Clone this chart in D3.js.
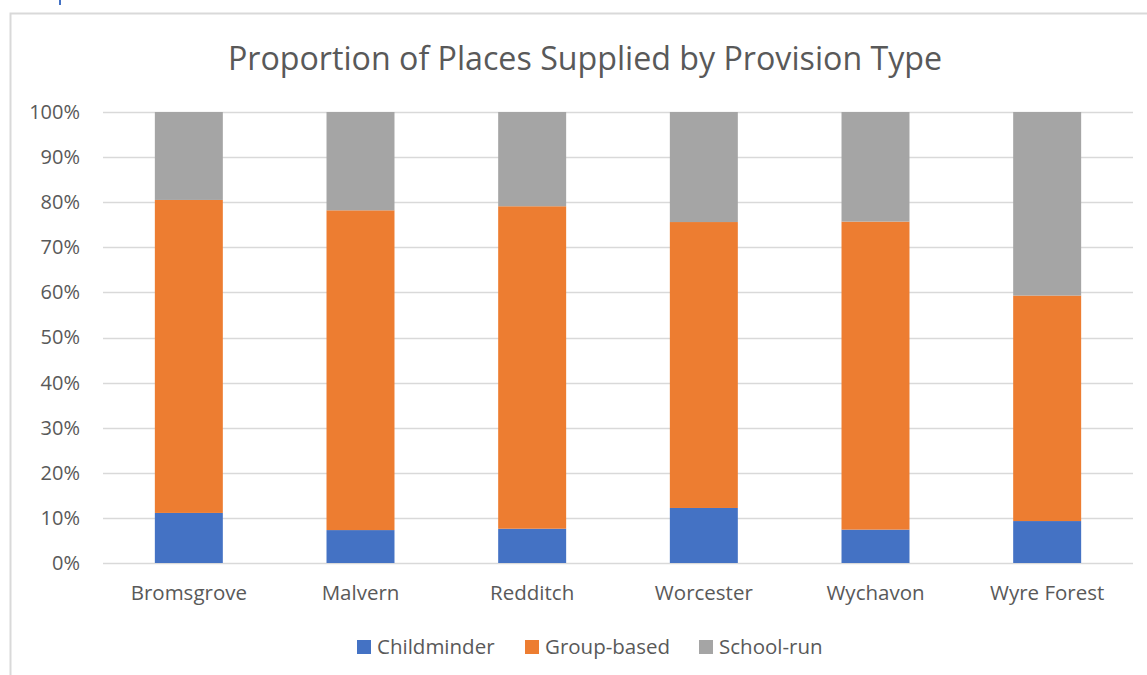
<!DOCTYPE html>
<html>
<head>
<meta charset="utf-8">
<script src="https://cdn.jsdelivr.net/npm/d3@7"></script>
<style>
  body { margin: 0; background: #fff; }
  text { font-family: 'Open Sans', sans-serif; fill: #595959; }
</style>
</head>
<body>
<div class="canvas"></div>
<script>
const districts = ['Bromsgrove', 'Malvern', 'Redditch', 'Worcester', 'Wychavon', 'Wyre Forest'];
const seriesNames = ['Childminder', 'Group-based', 'School-run'];
const childminder = [11.1, 7.3, 7.6, 12.2, 7.4, 9.3];
const groupBased = [69.4, 70.9, 71.5, 63.4, 68.3, 50.0];
const schoolRun = [19.5, 21.8, 20.9, 24.4, 24.3, 40.7];
const yTicks = [0, 10, 20, 30, 40, 50, 60, 70, 80, 90, 100];
const colours = ['#4472C4', '#ED7D31', '#A5A5A5'];

const width = 1147;
const height = 675;
const margin = { top: 112, right: 14, bottom: 112, left: 103 };
const graphWidth = width - margin.left - margin.right;
const graphHeight = height - margin.top - margin.bottom;

const svg = d3.select('.canvas')
  .append('svg')
  .attr('width', width)
  .attr('height', height);

// chart frame (runs off the right and bottom of the picture)
svg.append('rect')
  .attr('x', 10.5).attr('y', 13.5)
  .attr('width', 1200).attr('height', 700)
  .attr('fill', 'none')
  .attr('stroke', '#d9d9d9')
  .attr('stroke-width', 2);

svg.append('line')
  .attr('x1', 60).attr('x2', 60).attr('y1', 0).attr('y2', 5)
  .attr('stroke', '#4472C4').attr('stroke-width', 2);

svg.append('text')
  .attr('x', 585).attr('y', 70)
  .attr('text-anchor', 'middle')
  .style('font-size', '32.2px')
  .text('Proportion of Places Supplied by Provision Type');

const graph = svg.append('g')
  .attr('transform', `translate(${margin.left}, ${margin.top})`);

const x = d3.scaleBand().domain(districts).range([0, graphWidth]).paddingInner(0.604).paddingOuter(0.302);
const y = d3.scaleLinear().domain([0, 100]).range([graphHeight, 0]);

// gridlines
graph.append('g')
  .selectAll('line')
  .data(yTicks)
  .enter().append('line')
  .attr('x1', 0).attr('x2', graphWidth)
  .attr('y1', d => Math.round(y(d)) + 0.5)
  .attr('y2', d => Math.round(y(d)) + 0.5)
  .attr('stroke', '#d9d9d9')
  .attr('stroke-width', 1.5);

const table = districts.map((d, i) => ({
  district: d,
  'Childminder': childminder[i],
  'Group-based': groupBased[i],
  'School-run': schoolRun[i]
}));

const stacked = d3.stack().keys(seriesNames)(table);

graph.selectAll('g.series')
  .data(stacked)
  .enter().append('g')
  .attr('class', 'series')
  .attr('fill', (d, i) => colours[i])
  .selectAll('rect')
  .data(d => d)
  .enter().append('rect')
  .attr('x', d => x(d.data.district))
  .attr('width', x.bandwidth())
  .attr('y', d => y(d[1]))
  .attr('height', d => y(d[0]) - y(d[1]));

const yAxis = d3.axisLeft(y).tickValues(yTicks).tickFormat(d => d + '%').tickSize(0).tickPadding(23);
const yAxisGroup = graph.append('g').call(yAxis);
yAxisGroup.select('.domain').remove();
yAxisGroup.selectAll('text').style('font-size', '20px').style('fill', '#595959');

const xAxis = d3.axisBottom(x).tickSize(0).tickPadding(22);
const xAxisGroup = graph.append('g')
  .attr('transform', `translate(0, ${graphHeight})`)
  .call(xAxis);
xAxisGroup.select('.domain').remove();
xAxisGroup.selectAll('text').style('font-size', '20.5px').style('fill', '#595959');

// legend
const legendX = [357, 525, 699];
const legend = svg.append('g').selectAll('g')
  .data(seriesNames)
  .enter().append('g')
  .attr('transform', (d, i) => `translate(${legendX[i]}, 640)`);

legend.append('rect')
  .attr('width', 14).attr('height', 14)
  .attr('fill', (d, i) => colours[i]);

legend.append('text')
  .attr('x', 20).attr('y', 14)
  .style('font-size', '20.5px')
  .text(d => d);
</script>
</body>
</html>
